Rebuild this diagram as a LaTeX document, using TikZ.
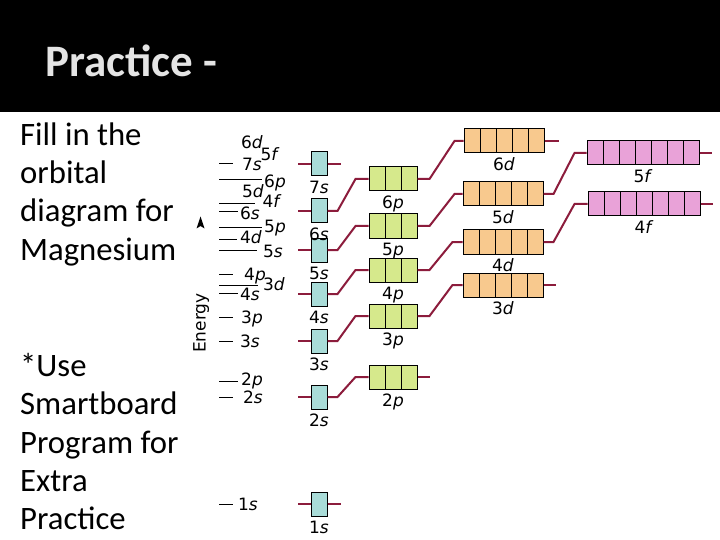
\documentclass[tikz,border=0pt]{standalone}
\usepackage{fontspec}
\setmainfont{Carlito}
\newfontfamily\lblfont{DejaVu Sans}
\usetikzlibrary{positioning}
\definecolor{sfill}{HTML}{A9DCD8}
\definecolor{pfill}{HTML}{D6E98C}
\definecolor{dfill}{HTML}{F8C98E}
\definecolor{ffill}{HTML}{E9A2D8}
\definecolor{conncol}{HTML}{8C1C3C}
\definecolor{titlegray}{HTML}{E4E4E4}
\tikzset{
  orb/.style={draw=black, line width=1pt, minimum height=24pt, inner sep=0pt},
  cells/.style={path picture={\foreach \i in {1,...,#1}
     {\draw[line width=1pt] ([xshift=\i*16pt]path picture bounding box.south west) -- ([xshift=\i*16pt]path picture bounding box.north west);}}},
  sbox/.style={orb, fill=sfill, minimum width=16pt},
  pbox/.style={orb, fill=pfill, minimum width=48pt, cells=2},
  dbox/.style={orb, fill=dfill, minimum width=80pt, cells=4},
  fbox/.style={orb, fill=ffill, minimum width=112pt, cells=6},
  conn/.style={draw=conncol, line width=2pt},
  lvl/.style={draw=black, line width=0.9pt},
  olbl/.style={font=\lblfont\fontsize{17}{19}\selectfont, inner sep=0pt, text height=12.5pt, text depth=3.5pt},
  bodytxt/.style={font=\fontsize{32.7}{38}\selectfont, anchor=base west, inner sep=0pt},
}
\newcommand{\orbl}[2]{#1\textit{#2}}
\begin{document}
\begin{tikzpicture}[x=1pt,y=-1pt]
\useasboundingbox (0,0) rectangle (720,540);
\fill[white] (0,0) rectangle (720,540);
\fill[black] (0,0) rectangle (720,112);
\node[anchor=base west, inner sep=0pt, text=titlegray, font=\bfseries\fontsize{45}{54}\selectfont] (title) at (45,77) {Practice -};
% left text
\node[bodytxt] (t1) at (20,146) {Fill in the};
\node[bodytxt] (t2) at (20,184) {orbital};
\node[bodytxt] (t3) at (20,222) {diagram for};
\node[bodytxt] (t4) at (20,260) {Magnesium};
\node[bodytxt] (u1) at (20,376) {*Use};
\node[bodytxt] (u2) at (20,414) {Smartboard};
\node[bodytxt] (u3) at (20,453) {Program for};
\node[bodytxt] (u4) at (20,491) {Extra};
\node[bodytxt] (u5) at (20,529) {Practice};
% energy axis
\node[olbl, rotate=90] (energy) at (201,323) {Energy};
\fill[black] (200.5,216.5) -- (204.5,228.5) -- (200.5,226) -- (196.5,228.5) -- cycle;
% energy level lines
\draw[lvl] (219,163) -- (233,163);
\draw[lvl] (219,179) -- (262,179);
\draw[lvl] (219,203) -- (255,203);
\draw[lvl] (219,211) -- (238,211);
\draw[lvl] (219,227) -- (262,227);
\draw[lvl] (219,239) -- (237,239);
\draw[lvl] (219,250) -- (257,250);
\draw[lvl] (219,274) -- (233,274);
\draw[lvl] (219,285) -- (258,285);
\draw[lvl] (219,293) -- (238,293);
\draw[lvl] (219,317) -- (233,317);
\draw[lvl] (219,341) -- (233,341);
\draw[lvl] (219,381) -- (238,381);
\draw[lvl] (219,397) -- (233,397);
\draw[lvl] (219,504) -- (233,504);
% energy level labels
\node[olbl] (e6d) at (252,144) {\orbl{6}{d}};
\node[olbl] (e7s) at (252,166) {\orbl{7}{s}};
\node[olbl] (e5f) at (270,156) {\orbl{5}{f}};
\node[olbl] (e6p) at (275,183) {\orbl{6}{p}};
\node[olbl] (e5d) at (253,193) {\orbl{5}{d}};
\node[olbl] (e4f) at (272,203) {\orbl{4}{f}};
\node[olbl] (e6s) at (250,215) {\orbl{6}{s}};
\node[olbl] (e5p) at (275,228) {\orbl{5}{p}};
\node[olbl] (e4d) at (251,239) {\orbl{4}{d}};
\node[olbl] (e5s) at (273,253) {\orbl{5}{s}};
\node[olbl] (e4p) at (255,276) {\orbl{4}{p}};
\node[olbl] (e3d) at (274,286) {\orbl{3}{d}};
\node[olbl] (e4s) at (250,296) {\orbl{4}{s}};
\node[olbl] (e3p) at (252,319) {\orbl{3}{p}};
\node[olbl] (e3s) at (250,343) {\orbl{3}{s}};
\node[olbl] (e2p) at (252,381) {\orbl{2}{p}};
\node[olbl] (e2s) at (253,399) {\orbl{2}{s}};
\node[olbl] (e1s) at (248,506) {\orbl{1}{s}};
% s boxes
\node[sbox] (s7) at (319,164) {};
\node[sbox] (s6) at (319,211) {};
\node[sbox] (s5) at (319,250) {};
\node[sbox] (s4) at (319,294) {};
\node[sbox] (s3) at (319,341) {};
\node[sbox] (s2) at (319,397) {};
\node[sbox] (s1) at (319,504) {};
% p boxes
\node[pbox] (p6) at (393,179) {};
\node[pbox] (p5) at (393,226) {};
\node[pbox] (p4) at (393,270) {};
\node[pbox] (p3) at (393,316) {};
\node[pbox] (p2) at (393,377) {};
% d boxes
\node[dbox] (d6) at (504,141) {};
\node[dbox] (d5) at (503,194) {};
\node[dbox] (d4) at (503,242) {};
\node[dbox] (d3) at (503,285) {};
% f boxes
\node[fbox] (f5) at (643,153) {};
\node[fbox] (f4) at (644,204) {};
% box labels
\foreach \n/\a/\b in {s7/7/s,s6/6/s,s5/5/s,s4/4/s,s3/3/s,s2/2/s,s1/1/s,p6/6/p,p5/5/p,p4/4/p,p3/3/p,p2/2/p,d6/6/d,d5/5/d,d4/4/d,d3/3/d,f5/5/f,f4/4/f}
  \node[olbl, below=4pt of \n] (l\n) {\orbl{\a}{\b}};
% s stubs
\foreach \n in {s7,s6,s5,s4,s3,s2,s1}
  \draw[conn] (\n.west) -- ++(-13,0);
\draw[conn] (s7.east) -- ++(13,0);
\draw[conn] (s1.east) -- ++(13,0);
% s -> p
\draw[conn] (s6.east) -- ++(10,0) -- ([xshift=-13pt]p6.west) -- (p6.west);
\draw[conn] (s5.east) -- ++(10,0) -- ([xshift=-13pt]p5.west) -- (p5.west);
\draw[conn] (s4.east) -- ++(10,0) -- ([xshift=-13pt]p4.west) -- (p4.west);
\draw[conn] (s3.east) -- ++(10,0) -- ([xshift=-13pt]p3.west) -- (p3.west);
\draw[conn] (s2.east) -- ++(10,0) -- ([xshift=-13pt]p2.west) -- (p2.west);
% p -> d
\draw[conn] (p6.east) -- ++(12,0) -- ([xshift=-9pt]d6.west) -- (d6.west);
\draw[conn] (p5.east) -- ++(12,0) -- ([xshift=-8pt]d5.west) -- (d5.west);
\draw[conn] (p4.east) -- ++(12,0) -- ([xshift=-10pt]d4.west) -- (d4.west);
\draw[conn] (p3.east) -- ++(12,0) -- ([xshift=-10pt]d3.west) -- (d3.west);
\draw[conn] (p2.east) -- ++(12,0);
% d -> f
\draw[conn] (d6.east) -- ++(14,0);
\draw[conn] (d3.east) -- ++(12,0);
\draw[conn] (d5.east) -- ++(10,0) -- ([xshift=-12pt]f5.west) -- (f5.west);
\draw[conn] (d4.east) -- ++(10,0) -- ([xshift=-13pt]f4.west) -- (f4.west);
\draw[conn] (f5.east) -- ++(12,0);
\draw[conn] (f4.east) -- ++(12,0);
\end{tikzpicture}
\end{document}
